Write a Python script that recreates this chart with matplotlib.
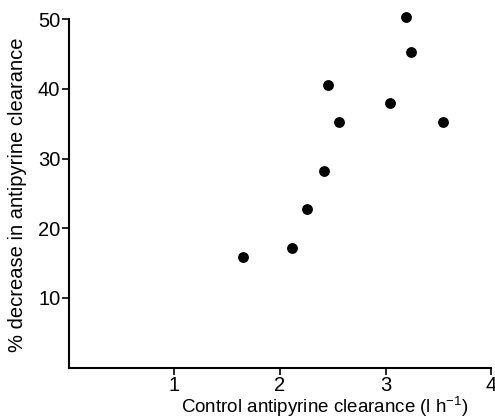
from matplotlib import pyplot as plt

# data
clearance = [3.19, 3.24, 2.45, 3.04, 2.56, 3.54, 2.42, 2.26, 2.11, 1.65]
decrease = [50.3, 45.3, 40.6, 38.0, 35.2, 35.2, 28.2, 22.7, 17.1, 15.9]
xticks = [1, 2, 3, 4]
yticks = [10, 20, 30, 40, 50]

plt.rcParams['font.family'] = ['Liberation Sans', 'DejaVu Sans']
plt.rcParams['mathtext.fontset'] = 'custom'
plt.rcParams['mathtext.rm'] = 'Liberation Sans'

fig = plt.figure(figsize=(4.95, 4.19), dpi=100)
ax = fig.add_axes([0.1386, 0.1224, 0.854, 0.832])

ax.scatter(clearance, decrease, s=46, color='black', zorder=3, clip_on=False)

ax.set_xlim(0, 4)
ax.set_ylim(0, 50)
ax.set_xticks(xticks)
ax.set_yticks(yticks)
ax.tick_params(labelsize=14.5, length=5, width=1.2, pad=1, direction='out')

ax.spines['top'].set_visible(False)
ax.spines['right'].set_visible(False)
ax.spines['left'].set_linewidth(1.5)
ax.spines['bottom'].set_linewidth(1.5)

ax.set_xlabel(r'Control antipyrine clearance (l h$\mathregular{^{-1}}$)', fontsize=13.5)
ax.xaxis.set_label_coords(0.606, -0.077)
ax.set_ylabel('% decrease in antipyrine clearance', fontsize=14.5)
ax.yaxis.set_label_coords(-0.098, 0.495)

fig.savefig('out.png', dpi=100)
